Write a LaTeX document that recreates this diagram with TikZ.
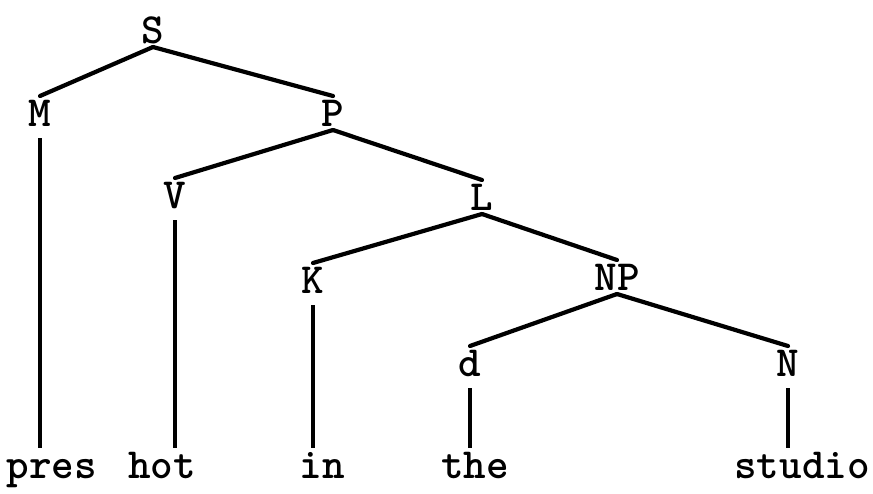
\documentclass[tikz,border=0pt]{standalone}
\usepackage{tikz}
\usetikzlibrary{positioning}
\tikzstyle{cat} = [inner sep=0pt, outer sep=4pt, text height=26pt, text depth=0pt, %
   font=\ttfamily\bfseries\fontsize{43}{48}\selectfont]
\tikzstyle{word} = [cat]
\tikzstyle{branch} = [draw, line width=4.2pt, line cap=round]
\tikzstyle{stem} = [draw, line width=4.2pt, shorten <=8pt]

\begin{document}
\begin{tikzpicture}[x=1pt, y=-1pt]
   \useasboundingbox (0,0) rectangle (873,493);
   % Place nodes
   \node[cat] (S) at (153,30) {S};

   % Categories %%%%%%%%%%%%%%%%%%%%%%%%%%%%%%%%%%%%%%%%%%%%%%%%%%%%%%
   \node[cat, below of = S, node distance=83pt, xshift=-113pt](M){M};
   \node[cat, below of = S, node distance=83pt, xshift=180pt](P){P};

   \node[cat, below of = P, node distance=82pt, xshift=-158pt](V){V};
   \node[cat, below of = P, node distance=84pt, xshift=149pt](L){L};

   \node[cat, below of = L, node distance=83pt, xshift=-169pt](K){K};
   \node[cat, below of = L, node distance=80pt, xshift=135pt](NP){NP};

   \node[cat, below of = NP, node distance=86pt, xshift=-147pt](d){d};
   \node[cat, below of = NP, node distance=86pt, xshift=171pt](N){N};

   % Words %%%%%%%%%%%%%%%%%%%%%%%%%%%%%%%%%%%%%%%%%%%%%%%%%%%%%%%%%%%
   \node[word, below of = M, node distance=352pt, xshift=12pt](pres){pres};
   \node[word, below of = V, node distance=270pt, xshift=-13pt](hot){hot};
   \node[word, below of = K, node distance=185pt, xshift=9pt](in){in};
   \node[word, below of = d, node distance=102pt, xshift=5pt](the){the};
   \node[word, below of = N, node distance=102pt, xshift=14pt](studio){studio};

   % Draw edges
   % Branches
   \path [branch] (S.south) -- (M.north);
   \path [branch] (S.south) -- (P.north);
   \path [branch] (P.south) -- (V.north);
   \path [branch] (P.south) -- (L.north);
   \path [branch] (L.south) -- (K.north);
   \path [branch] (L.south) -- (NP.north);
   \path [branch] (NP.south) -- (d.north);
   \path [branch] (NP.south) -- (N.north);

   % Stems down to the words
   \path [stem] (M.south) -- (M.south |- pres.north);
   \path [stem] (V.south) -- (V.south |- hot.north);
   \path [stem] (K.south) -- (K.south |- in.north);
   \path [stem] (d.south) -- (d.south |- the.north);
   \path [stem] (N.south) -- (N.south |- studio.north);
\end{tikzpicture}
\end{document}
